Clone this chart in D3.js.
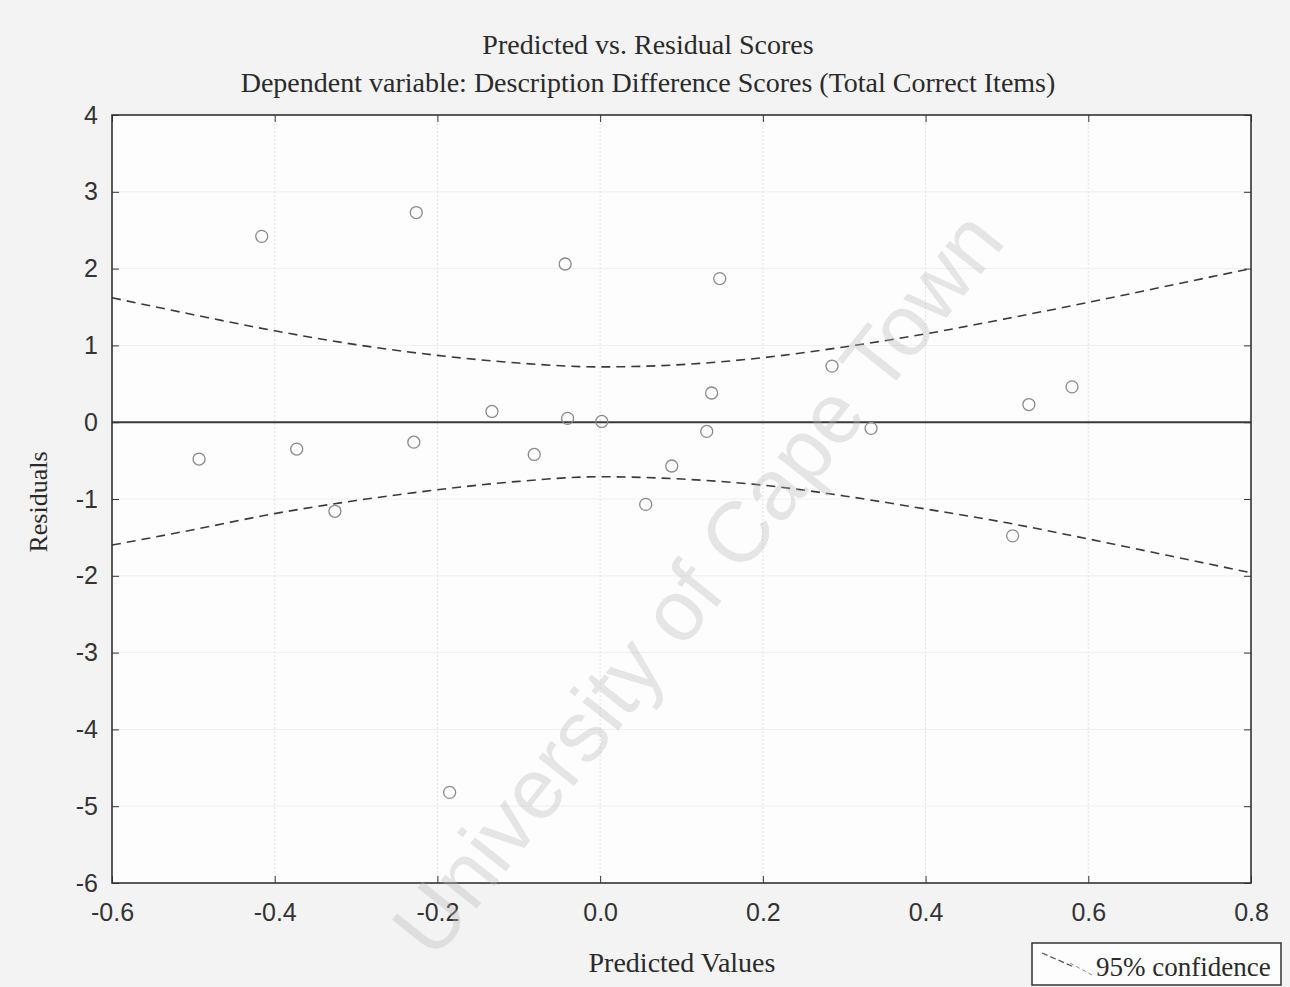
<!DOCTYPE html>
<html lang="en">
<head>
<meta charset="UTF-8">
<script src="https://cdn.jsdelivr.net/npm/d3@7"></script>
<title>Predicted vs. Residual Scores</title>
<style>
  body { margin: 0; background: #f3f3f3; }
  svg { display: block; }
  .serif { font-family: "Liberation Serif", "DejaVu Serif", serif; fill: #2a2a2a; }
  .tick text { font-family: "Liberation Sans", Arial, sans-serif; font-size: 25px; fill: #333; }
</style>
</head>
<body>
<div id="chart"></div>
<script>
// Scatter points: predicted value vs residual
var predicted = [-0.416, -0.226, -0.043, 0.147, 0.285, 0.137, 0.527, 0.580, -0.133, -0.040, 0.002,
                 -0.493, -0.373, -0.229, -0.326, -0.081, 0.088, 0.056, 0.131, 0.333, 0.507, -0.185];
var residuals = [2.42, 2.73, 2.06, 1.87, 0.73, 0.38, 0.23, 0.46, 0.14, 0.05, 0.01,
                 -0.48, -0.35, -0.26, -1.16, -0.42, -0.57, -1.07, -0.12, -0.08, -1.48, -4.82];

// 95% confidence band
var bandX     = [-0.6, -0.5, -0.4, -0.3, -0.2, -0.1, 0.0, 0.1, 0.2, 0.3, 0.4, 0.5, 0.6, 0.7, 0.8];
var bandUpper = [1.62, 1.40, 1.19, 1.01, 0.87, 0.77, 0.72, 0.75, 0.84, 0.98, 1.15, 1.35, 1.56, 1.78, 2.00];
var bandLower = [-1.60, -1.40, -1.19, -1.02, -0.88, -0.77, -0.71, -0.74, -0.82, -0.96, -1.13, -1.31, -1.52, -1.74, -1.96];

var xTicks = [-0.6, -0.4, -0.2, 0.0, 0.2, 0.4, 0.6, 0.8];
var yTicks = [4, 3, 2, 1, 0, -1, -2, -3, -4, -5, -6];

var W = 1290, H = 987;
var margin = {top: 115, right: 39, bottom: 104, left: 112};
var width = W - margin.left - margin.right;
var height = H - margin.top - margin.bottom;

var svg = d3.select("#chart").append("svg")
    .attr("width", W)
    .attr("height", H);

svg.append("rect").attr("width", W).attr("height", H).attr("fill", "#f3f3f3");

var g = svg.append("g")
    .attr("transform", "translate(" + margin.left + "," + margin.top + ")");

var x = d3.scaleLinear().domain([-0.6, 0.8]).range([0, width]);
var y = d3.scaleLinear().domain([-6, 4]).range([height, 0]);

// plot area
g.append("rect")
    .attr("width", width)
    .attr("height", height)
    .attr("fill", "#fdfdfd");

// grid
g.append("g").selectAll("line")
  .data(xTicks.slice(1, -1))
  .enter().append("line")
    .attr("x1", function(d) { return x(d); })
    .attr("x2", function(d) { return x(d); })
    .attr("y1", 0).attr("y2", height)
    .attr("stroke", "#e2e2e2")
    .attr("stroke-dasharray", "2,2");

g.append("g").selectAll("line")
  .data(yTicks.slice(1, -1))
  .enter().append("line")
    .attr("y1", function(d) { return y(d); })
    .attr("y2", function(d) { return y(d); })
    .attr("x1", 0).attr("x2", width)
    .attr("stroke", "#efefef");

// axes (ticks pointing inward)
var fmtX = d3.format(".1f");
g.append("g")
    .attr("transform", "translate(0," + height + ")")
    .call(d3.axisBottom(x).tickValues(xTicks).tickFormat(fmtX).tickSizeInner(-7).tickSizeOuter(0).tickPadding(20))
    .call(function(a) { a.select(".domain").remove(); a.selectAll("line").attr("stroke", "#333"); });

g.append("g")
    .call(d3.axisTop(x).tickValues(xTicks).tickFormat("").tickSizeInner(-7).tickSizeOuter(0))
    .call(function(a) { a.select(".domain").remove(); a.selectAll("line").attr("stroke", "#333"); });

g.append("g")
    .call(d3.axisLeft(y).tickValues(yTicks).tickSizeInner(-7).tickSizeOuter(0).tickPadding(14))
    .call(function(a) { a.select(".domain").remove(); a.selectAll("line").attr("stroke", "#333"); });

g.append("g")
    .attr("transform", "translate(" + width + ",0)")
    .call(d3.axisRight(y).tickValues(yTicks).tickFormat("").tickSizeInner(-7).tickSizeOuter(0))
    .call(function(a) { a.select(".domain").remove(); a.selectAll("line").attr("stroke", "#333"); });

g.selectAll(".tick text").each(function() {
  var t = d3.select(this);
  t.text(t.text().replace("\u2212", "-"));
});

// zero reference line
g.append("line")
    .attr("x1", 0).attr("x2", width)
    .attr("y1", y(0)).attr("y2", y(0))
    .attr("stroke", "#3a3a3a")
    .attr("stroke-width", 2);

// confidence band
var band = d3.line()
    .x(function(d) { return x(d[0]); })
    .y(function(d) { return y(d[1]); })
    .curve(d3.curveMonotoneX);

[bandUpper, bandLower].forEach(function(vals) {
  g.append("path")
    .datum(bandX.map(function(v, i) { return [v, vals[i]]; }))
    .attr("d", band)
    .attr("fill", "none")
    .attr("stroke", "#3a3a3a")
    .attr("stroke-width", 1.6)
    .attr("stroke-dasharray", "9,6");
});

// points
g.append("g").selectAll("circle")
  .data(predicted)
  .enter().append("circle")
    .attr("cx", function(d) { return x(d); })
    .attr("cy", function(d, i) { return y(residuals[i]); })
    .attr("r", 6)
    .attr("fill", "none")
    .attr("stroke", "#8a8a8a")
    .attr("stroke-width", 1.3);

// frame
g.append("rect")
    .attr("width", width)
    .attr("height", height)
    .attr("fill", "none")
    .attr("stroke", "#333")
    .attr("stroke-width", 1.6);

// titles
svg.append("text")
    .attr("class", "serif")
    .attr("x", 648).attr("y", 54)
    .attr("text-anchor", "middle")
    .attr("font-size", 28)
    .text("Predicted vs. Residual Scores");

svg.append("text")
    .attr("class", "serif")
    .attr("x", 648).attr("y", 92)
    .attr("text-anchor", "middle")
    .attr("font-size", 28)
    .text("Dependent variable: Description Difference Scores (Total Correct Items)");

svg.append("text")
    .attr("class", "serif")
    .attr("x", 682).attr("y", 972)
    .attr("text-anchor", "middle")
    .attr("font-size", 28)
    .text("Predicted Values");

svg.append("text")
    .attr("class", "serif")
    .attr("transform", "translate(47,502) rotate(-90)")
    .attr("text-anchor", "middle")
    .attr("font-size", 26)
    .text("Residuals");

// legend
var legend = svg.append("g").attr("transform", "translate(1032,943)");
legend.append("rect")
    .attr("width", 249).attr("height", 42)
    .attr("fill", "#fdfdfd")
    .attr("stroke", "#333")
    .attr("stroke-width", 1.5);
legend.append("line")
    .attr("x1", 10).attr("y1", 10).attr("x2", 42).attr("y2", 24)
    .attr("stroke", "#555").attr("stroke-width", 1.3)
    .attr("stroke-dasharray", "6,3");
legend.append("line")
    .attr("x1", 38).attr("y1", 20).attr("x2", 60).attr("y2", 32)
    .attr("stroke", "#888").attr("stroke-width", 1)
    .attr("stroke-dasharray", "4,3");
legend.append("text")
    .attr("class", "serif")
    .attr("x", 64).attr("y", 33)
    .attr("font-size", 27)
    .text("95% confidence");

// watermark
svg.append("text")
    .attr("transform", "translate(697,583) rotate(-51.5)")
    .attr("text-anchor", "middle")
    .attr("dy", "0.35em")
    .attr("font-family", "'Liberation Sans', Arial, sans-serif")
    .attr("font-size", 86)
    .attr("textLength", 920)
    .attr("fill", "#b8b8b8")
    .attr("fill-opacity", 0.35)
    .text("University of Cape Town");
</script>
</body>
</html>
